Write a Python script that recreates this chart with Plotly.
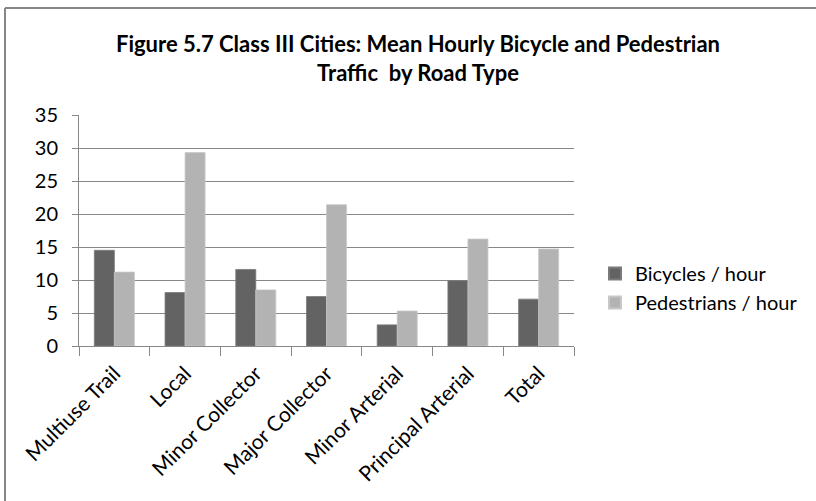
import plotly.graph_objects as go

categories = ["Multiuse Trail", "Local", "Minor Collector", "Major Collector",
              "Minor Arterial", "Principal Arterial", "Total"]
bicycles = [14.5, 8.1, 11.6, 7.5, 3.2, 9.9, 7.1]
pedestrians = [11.2, 29.3, 8.5, 21.4, 5.3, 16.2, 14.7]
y_ticks = [0, 5, 10, 15, 20, 25, 30, 35]

FONT = "Lato, Open Sans, sans-serif"
GRID = "#888888"

fig = go.Figure()
fig.add_trace(go.Bar(name="Bicycles / hour", x=categories, y=bicycles,
                     marker=dict(color="#636363", line=dict(color="#7a7a7a", width=0.8))))
fig.add_trace(go.Bar(name="Pedestrians / hour", x=categories, y=pedestrians,
                     marker=dict(color="#b3b3b3", line=dict(color="#c8c8c8", width=0.8))))

L, R, T, B = 79, 242, 115, 155
W, H = 816, 501
pw, ph = W - L - R, H - T - B

def px(x):
    return (x - L) / pw

def py(y):
    return (H - B - y) / ph

fig.update_layout(
    width=W, height=H,
    margin=dict(l=L, r=R, t=T, b=B, autoexpand=False),
    paper_bgcolor="white", plot_bgcolor="white",
    barmode="group", bargap=0.434, bargroupgap=0,
    font=dict(family=FONT, size=20, color="#000000"),
    title=dict(
        text="<b>Figure 5.7 Class III Cities: Mean Hourly Bicycle and Pedestrian<br>Traffic  by Road Type</b>",
        x=418 / W, xanchor="center", xref="container",
        y=1 - 52 / H, yanchor="top", yref="container",
        font=dict(family=FONT, size=22, color="#000000"),
    ),
    legend=dict(
        x=px(595), y=py(288), xanchor="left", yanchor="middle",
        font=dict(family=FONT, size=20),
        bgcolor="rgba(0,0,0,0)", tracegroupgap=4, itemsizing="constant",
        itemwidth=30,
    ),
    xaxis=dict(
        showline=True, linecolor=GRID, linewidth=1,
        ticks="outside", tickson="boundaries", ticklen=9, tickcolor=GRID,
        tickangle=-45, tickfont=dict(family=FONT, size=21),
        ticklabelstandoff=6,
        showgrid=False, automargin=False,
    ),
    yaxis=dict(
        range=[0, 35], tickvals=y_ticks, ticktext=[str(v) for v in y_ticks],
        showline=True, linecolor=GRID, linewidth=1,
        ticks="outside", ticklen=6, tickcolor=GRID,
        showgrid=True, gridcolor=GRID, gridwidth=1,
        zeroline=False, tickfont=dict(family=FONT, size=20),
        ticklabelstandoff=10, automargin=False,
    ),
    shapes=[
        dict(type="line", xref="paper", yref="paper",
             x0=px(5), x1=px(5), y0=py(8), y1=py(H + 5),
             line=dict(color="#868686", width=2)),
        dict(type="line", xref="paper", yref="paper",
             x0=px(5), x1=px(W + 5), y0=py(8), y1=py(8),
             line=dict(color="#868686", width=2)),
    ],
)

fig.write_html("out.html", config={"displayModeBar": False},
               post_script="document.body.style.margin='0';document.body.style.overflow='hidden';")
